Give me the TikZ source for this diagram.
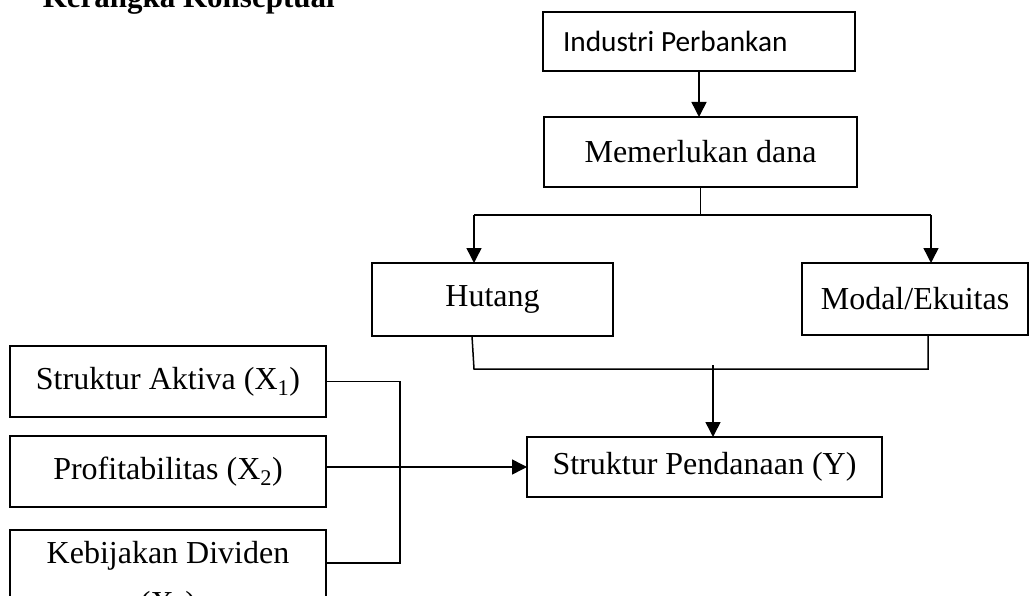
\documentclass[tikz,border=0pt]{standalone}
\usepackage{fontspec}
\setmainfont{Liberation Serif}
\newfontfamily\calibrifont{Carlito}
\usetikzlibrary{arrows.meta}

\begin{document}
\begin{tikzpicture}[x=1pt,y=-1pt,line width=1.5pt,
	box/.style={draw,line width=1.5pt,inner sep=0,outer sep=0,font=\fontsize{32}{38}\selectfont},
	arr/.style={-{Triangle[length=15pt,width=15pt]}}]
	\useasboundingbox (0,0) rectangle (1032,596);
	\clip (0,0) rectangle (1032,596);
	\node[anchor=base west,inner sep=0,font=\fontsize{31}{37}\selectfont\bfseries] (judul) at (42,8) {Kerangka Konseptual};
	\node[box,minimum width=312pt,minimum height=59pt,inner xsep=20pt,font=\calibrifont\fontsize{29.3}{35}\selectfont] (ind) at (699,41.5) {\makebox[272pt][l]{Industri Perbankan}};
	\node[box,minimum width=313pt,minimum height=70pt] (dana) at (700.5,152) {Memerlukan dana};
	\node[box,minimum width=241pt,minimum height=73pt] (hut) at (492.5,299.5) {Hutang};
	\node[box,minimum width=226pt,minimum height=72pt] (mod) at (915,299) {Modal/Ekuitas};
	\node[box,minimum width=355pt,minimum height=60pt] (pend) at (704.5,467) {Struktur Pendanaan (Y)};
	\node[box,minimum width=316pt,minimum height=71pt] (x1) at (168,381.5) {Struktur Aktiva (X\textsubscript{1})};
	\node[box,minimum width=316pt,minimum height=71pt] (x2) at (168,471.5) {Profitabilitas (X\textsubscript{2})};
	\node[box,minimum width=316pt,anchor=north,align=center,inner ysep=11pt] (x3) at (168,530) {Kebijakan Dividen\\[12pt](X\textsubscript{3})};
	% cabang dana
	\coordinate (bl) at (474,215);
	\coordinate (br) at (931,215);
	\draw (dana.south) -- (dana.south |- bl);
	\draw (bl) -- (br);
	\draw[arr] (bl) -- (bl |- hut.north);
	\draw[arr] (br) -- (br |- mod.north);
	% gabung ke struktur pendanaan
	\coordinate (hd) at (472,336);
	\coordinate (jl) at (474,369);
	\coordinate (jr) at (928,369);
	\coordinate (jc) at (713,365);
	\draw (hd) -- (jl) -- (jr) -- (jr |- mod.south);
	\draw[arr] (jc) -- (jc |- pend.north);
	\draw[arr] (ind.south) -- (ind.south |- dana.north);
	% variabel X
	\coordinate (ka) at (400,382);
	\coordinate (kb) at (400,563);
	\draw (x1.east) -- (x1.east -| ka) -- (kb) -- (kb -| x3.east);
	\draw[arr] (x2.east |- pend.west) -- (pend.west);
\end{tikzpicture}
\end{document}
